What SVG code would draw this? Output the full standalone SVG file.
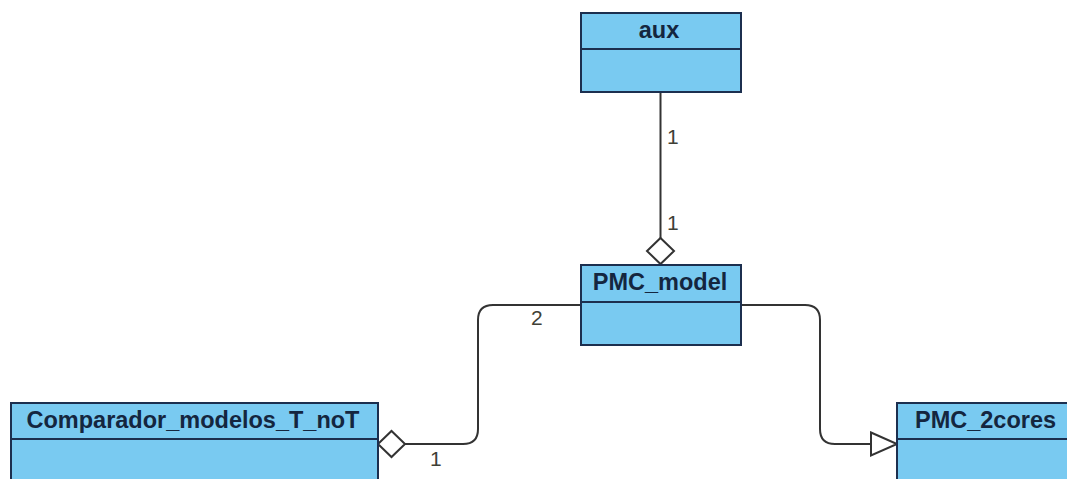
<svg xmlns="http://www.w3.org/2000/svg" width="1067" height="479" viewBox="0 0 1067 479">
  <style>
    .box { fill: #79caf1; stroke: #1c2f4f; stroke-width: 2; }
    .div { stroke: #1c2f4f; stroke-width: 2; }
    .name { font-family: "Liberation Sans", Arial, sans-serif; font-size: 23.5px; font-weight: bold; fill: #14263f; }
    .edge { fill: none; stroke: #333333; stroke-width: 2; }
    .head { fill: #ffffff; stroke: #333333; stroke-width: 2; }
    .mult { font-family: "Liberation Sans", Arial, sans-serif; font-size: 21px; fill: #3f3f36; }
  </style>
  <rect width="1067" height="479" fill="#ffffff"/>

  <!-- connectors -->
  <g id="connectors">
    <!-- aux to PMC_model aggregation -->
    <line class="edge" x1="660.5" y1="92" x2="660.5" y2="238"/>
    <polygon class="head" points="660.5,238 674,251 660.5,264 647,251"/>
    <text class="mult" x="667" y="144">1</text>
    <text class="mult" x="667" y="230">1</text>

    <!-- PMC_model to Comparador_modelos_T_noT aggregation -->
    <path class="edge" d="M581,305 H493 Q478,305 478,320 V429 Q478,444 463,444 H405"/>
    <polygon class="head" points="378,444 391.5,431 405,444 391.5,457"/>
    <text class="mult" x="531" y="325">2</text>
    <text class="mult" x="430" y="466">1</text>

    <!-- PMC_model generalization to PMC_2cores -->
    <path class="edge" d="M741,305 H805 Q820,305 820,320 V429 Q820,444 835,444 H871"/>
    <polygon class="head" points="871,432.5 897,444 871,455.5"/>
  </g>

  <g id="aux">
    <rect class="box" x="581" y="13" width="160" height="79"/>
    <line class="div" x1="581" y1="49" x2="741" y2="49"/>
    <text class="name" x="659" y="38" text-anchor="middle">aux</text>
  </g>

  <g id="PMC_model">
    <rect class="box" x="581" y="265" width="160" height="80"/>
    <line class="div" x1="581" y1="302" x2="741" y2="302"/>
    <text class="name" x="660" y="290" text-anchor="middle">PMC_model</text>
  </g>

  <g id="Comparador_modelos_T_noT">
    <rect class="box" x="11" y="403" width="367" height="90"/>
    <line class="div" x1="11" y1="439" x2="378" y2="439"/>
    <text class="name" x="193" y="428" text-anchor="middle">Comparador_modelos_T_noT</text>
  </g>

  <g id="PMC_2cores">
    <rect class="box" x="897" y="403" width="190" height="90"/>
    <line class="div" x1="897" y1="439" x2="1087" y2="439"/>
    <text class="name" x="915" y="428">PMC_2cores</text>
  </g>
</svg>
